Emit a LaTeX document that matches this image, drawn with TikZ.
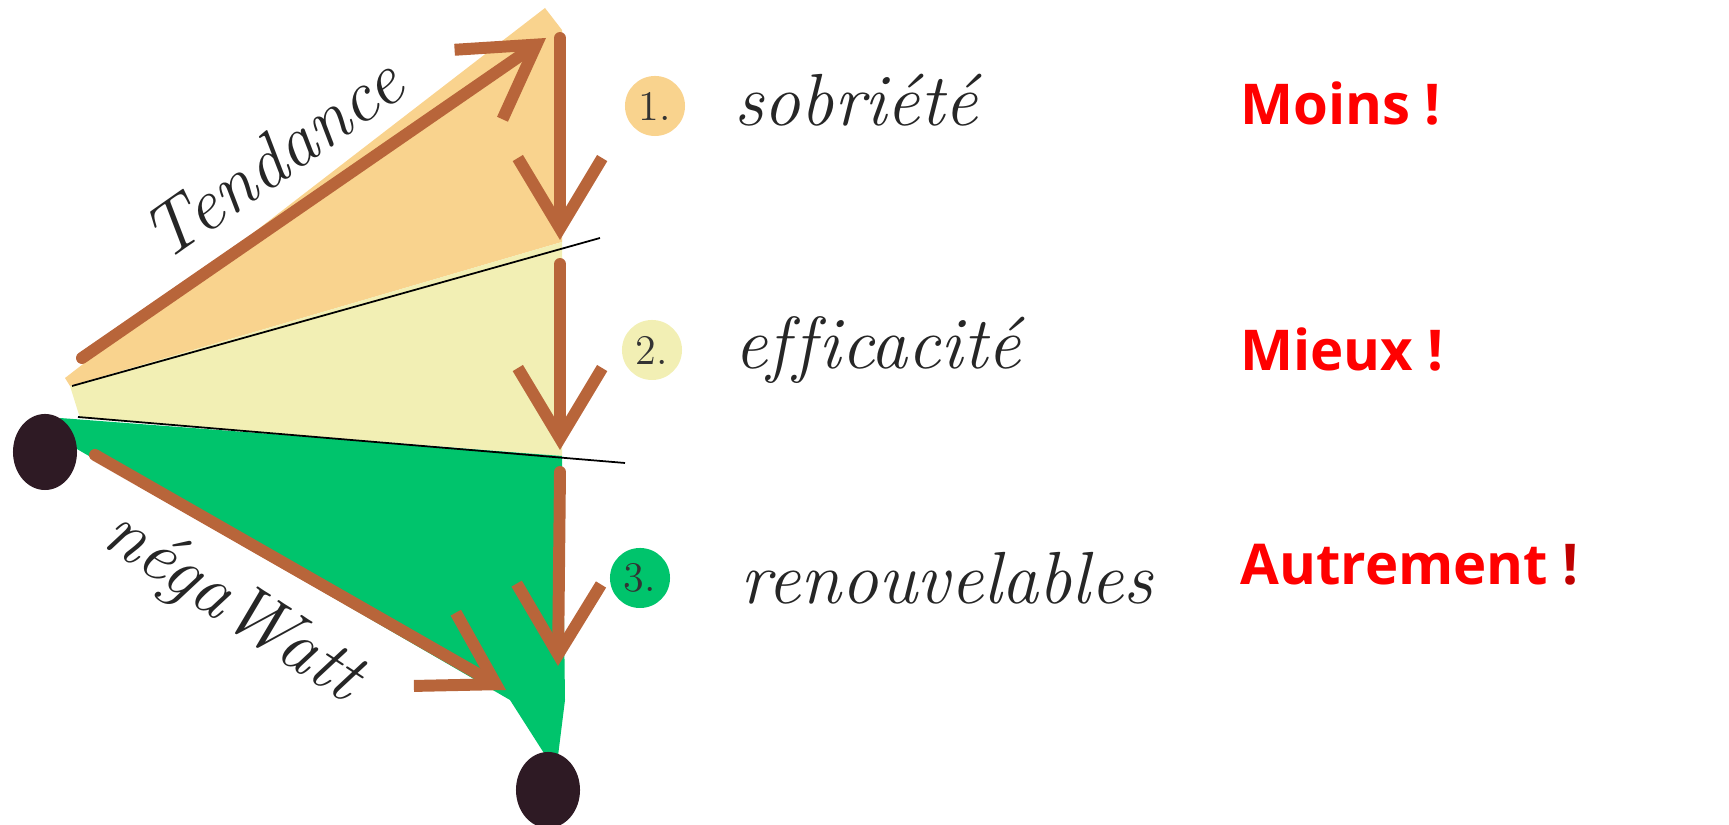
\documentclass[tikz,border=0pt]{standalone}
\usepackage{fontspec}
\usetikzlibrary{arrows.meta,shapes.geometric}
\newfontfamily\redfont{Open Sans}
\definecolor{orangefill}{HTML}{F9D38E}
\definecolor{yellowfill}{HTML}{F2EFB4}
\definecolor{greenfill}{HTML}{00C46C}
\definecolor{brownline}{HTML}{B8653A}
\definecolor{dotcol}{HTML}{2E1A24}
\definecolor{redtxt}{HTML}{FF0000}
\definecolor{darkredtxt}{HTML}{C00000}
\begin{document}
\begin{tikzpicture}[x=0.01cm,y=-0.01cm,
  brownarrow/.style={draw=brownline,line width=3.4pt,line cap=round,
    -{Straight Barb[length=20pt,width=24pt,line width=3.4pt]}},
  sepline/.style={draw=black,line width=0.5pt},
  dotnode/.style={ellipse,fill=dotcol,minimum width=0.64cm,minimum height=0.76cm,inner sep=0pt},
  hand/.style={font=\fontsize{21}{24}\selectfont\itshape,text=black!85},
  numdisc/.style={circle,minimum size=0.6cm,inner sep=0pt,font=\fontsize{12}{14}\selectfont,text=black!80},
  redlabel/.style={anchor=west,font=\redfont\bfseries\fontsize{16}{19}\selectfont,text=redtxt}]
\useasboundingbox (0,0) rectangle (1729,825);
% fills
\fill[orangefill] (65,378) -- (545,8) -- (562,30) -- (562,242) -- (70,386) -- cycle;
\fill[yellowfill] (70,386) -- (562,242) -- (562,456) -- (80,418) -- cycle;
\fill[greenfill] (60,418) -- (562,456) -- (565,700) -- (556,772) -- (510,700) -- (70,445) -- cycle;
% separators
\coordinate (s1a) at (72,386);
\coordinate (s1b) at (600,238);
\coordinate (s2a) at (78,417);
\coordinate (s2b) at (625,463);
\draw[sepline] (s1a) -- (s1b);
\draw[sepline] (s2a) -- (s2b);
% arrow endpoints
\coordinate (t0) at (82,358);
\coordinate (t1) at (546,38);
\coordinate (v1a) at (560,38);
\coordinate (v1b) at (560,240);
\coordinate (v2a) at (560,264);
\coordinate (v2b) at (560,450);
\coordinate (v3a) at (560,472);
\coordinate (v3b) at (558,666);
\coordinate (n0) at (95,455);
\coordinate (n1) at (506,690);
\draw[brownarrow] (t0) -- (t1);
\draw[brownarrow] (v1a) -- (v1b);
\draw[brownarrow] (v2a) -- (v2b);
\draw[brownarrow] (v3a) -- (v3b);
\draw[brownarrow] (n0) -- (n1);
% dots
\node[dotnode] (dA) at (45,452) {};
\node[dotnode] (dB) at (548,790) {};
% diagonal labels
\node[hand,rotate=35] (tend) at (272,158) {Tendance};
\node[hand,rotate=-33] (nega) at (232,608) {négaWatt};
% numbered discs
\node[numdisc,fill=orangefill] (c1) at (655,106) {1.};
\node[numdisc,fill=yellowfill] (c2) at (652,350) {2.};
\node[numdisc,fill=greenfill] (c3) at (640,578) {3.};
\node[hand,anchor=west] (l1) at (722,100) {sobriété};
\node[hand,anchor=west] (l2) at (722,350) {ef\kern1pt f\kern1pt icacité};
\node[hand,anchor=west] (l3) at (728,578) {renouvelables};
% red labels
\node[redlabel] (r1) at (1228,104) {Moins !};
\node[redlabel] (r2) at (1228,350) {Mieux !};
\node[redlabel] (r3) at (1228,565) {Autrement {\color{darkredtxt}!}};
\end{tikzpicture}
\end{document}
